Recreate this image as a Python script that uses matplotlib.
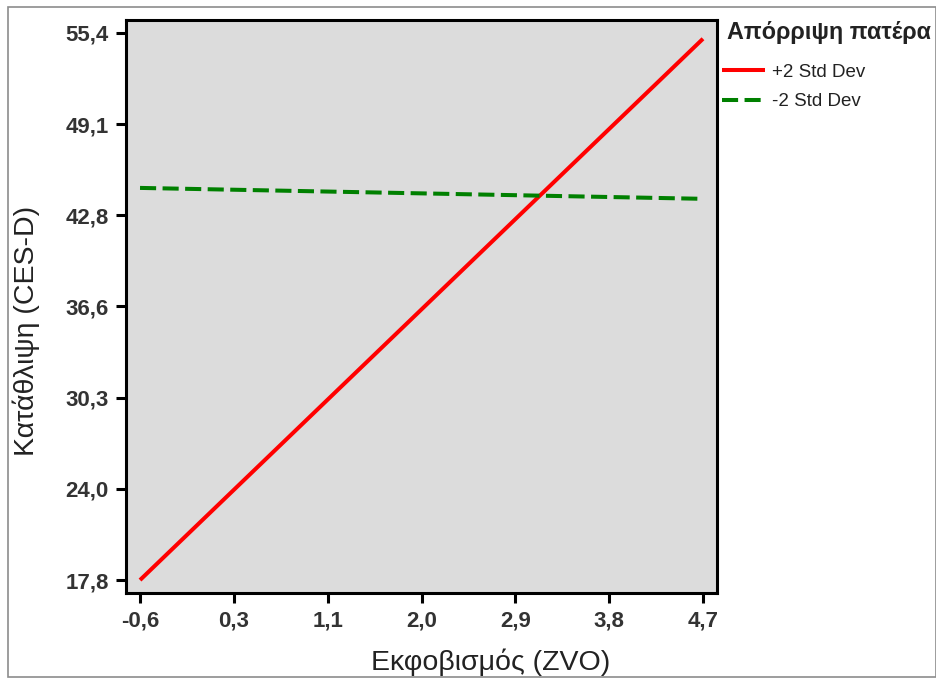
import matplotlib.pyplot as plt
from matplotlib.patches import Rectangle

plt.rcParams['font.family'] = ['Liberation Sans', 'DejaVu Sans']

# Data
x_range = [-0.6, 4.7]
high_rejection = [17.8, 55.0]   # +2 Std Dev
low_rejection = [44.75, 44.0]   # -2 Std Dev

x_tick_vals = [-0.6, 0.283, 1.167, 2.05, 2.933, 3.817, 4.7]
x_tick_labels = ["-0,6", "0,3", "1,1", "2,0", "2,9", "3,8", "4,7"]
y_tick_vals = [17.8, 24.067, 30.333, 36.6, 42.867, 49.133, 55.4]
y_tick_labels = ["17,8", "24,0", "30,3", "36,6", "42,8", "49,1", "55,4"]

W, H = 936, 679
fig = plt.figure(figsize=(W / 100, H / 100), dpi=100)
fig.patch.set_facecolor("white")

# outer frame
fig.patches.append(Rectangle((8 / W, 1 - 677 / H), (W - 8) / W, (677 - 7) / H,
                             transform=fig.transFigure, fill=False,
                             edgecolor="#8c8c8c", linewidth=1.2))

ax = fig.add_axes([126 / W, 1 - 593 / H, (717 - 126) / W, (593 - 20) / H])
ax.set_facecolor("#dcdcdc")

ax.plot(x_range, high_rejection, color="#ff0000", linewidth=2.9,
        solid_capstyle="butt", label="+2 Std Dev")
ax.plot(x_range, low_rejection, color="#008000", linewidth=2.9,
        dashes=(4, 1.6), dash_capstyle="butt", label="-2 Std Dev")

ax.set_xlim(-0.732, 4.832)
ax.set_ylim(16.91, 56.29)

ax.set_xticks(x_tick_vals)
ax.set_xticklabels(x_tick_labels)
ax.set_yticks(y_tick_vals)
ax.set_yticklabels(y_tick_labels)

for s in ax.spines.values():
    s.set_linewidth(2.2)
    s.set_color("black")
ax.tick_params(axis="both", length=7.5, width=2.2, direction="out",
               labelsize=16, labelcolor="#333333", pad=5)
for lab in ax.get_xticklabels() + ax.get_yticklabels():
    lab.set_fontweight("bold")

fig.text(491 / W, 1 - 662 / H, "Εκφοβισμός (ZVO)", ha="center", va="center",
         fontsize=20.5, color="#222222")
fig.text(26 / W, 1 - 331 / H, "Κατάθλιψη (CES-D)", ha="center", va="center",
         rotation=90, fontsize=20.5, color="#222222")

# legend title drawn separately so the gap to the entries matches
fig.text(727 / W, 1 - 33 / H, "Απόρριψη πατέρα", ha="left", va="center",
         fontsize=16.8, fontweight="bold", color="#222222")
leg = fig.legend(loc="upper left", bbox_to_anchor=(722 / W, 1 - 63.5 / H),
                 frameon=False, fontsize=13.5,
                 handlelength=2.3, handletextpad=0.35, labelspacing=0.66,
                 borderpad=0, borderaxespad=0)
for t in leg.get_texts():
    t.set_color("#222222")

fig.savefig("out.png", dpi=100)
